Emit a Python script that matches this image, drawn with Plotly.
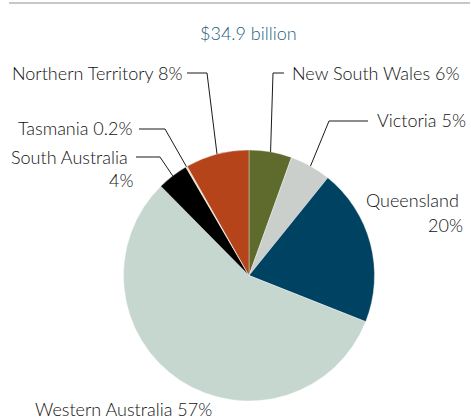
import math
import plotly.graph_objects as go

# ---- data ----
regions = ["New South Wales", "Victoria", "Queensland", "Western Australia",
           "South Australia", "Tasmania", "Northern Territory"]
shares = [5.5, 5.3, 20.2, 56.6, 4.0, 0.2, 8.2]
pct_labels = ["6%", "5%", "20%", "57%", "4%", "0.2%", "8%"]
colors = ["#5e6b2c", "#cbcfcb", "#004262", "#c6d7d0", "#000000", "#e8dcb8", "#b5441a"]
title_text = "$34.9 billion"

W, H = 471, 420
CX, CY, R = 249.0, 275.5, 125.5


def px(x):
    return x / W


def py(y):
    return 1 - y / H


fig = go.Figure()
fig.add_trace(go.Pie(
    labels=regions, values=shares, sort=False, direction="clockwise", rotation=0,
    marker=dict(colors=colors, line=dict(color="rgba(255,255,255,0.6)", width=0.6)),
    textinfo="none", hoverinfo="label+percent", showlegend=False,
    domain=dict(x=[px(CX - R), px(CX + R)], y=[py(CY + R), py(CY - R)]),
))

# mid-angle of each slice (degrees clockwise from 12 o'clock), from the data
total = sum(shares)
mids = []
cum = 0.0
for v in shares:
    mids.append((cum + v / 2) / total * 360)
    cum += v


def edge_point(i):
    a = math.radians(mids[i])
    return CX + R * math.sin(a), CY - R * math.cos(a)


# label placement (layout)
one_line = {
    6: (184, 73, "right", (187, 73), (207, 73)),
    0: (291, 73, "left", (284, 73), (273, 73)),
    1: (376, 120, "left", (368, 121), (329, 121)),
    5: (133, 128, "right", (139, 129), (165, 129)),
    3: (34, 409, "left", None, None),
}
two_line = {
    4: ((129, 157), (134, 180), (136, 157), (160, 157)),
    2: ((460, 200), (464, 225), None, None),
}

txt_font = dict(family="Lato, 'Open Sans', sans-serif", size=18, color="#111111",
                weight=300)
annotations = []
shapes = []


def add_text(x, y, text, anc):
    annotations.append(dict(
        x=px(x), y=py(y), xref="paper", yref="paper", text=text,
        showarrow=False, xanchor=anc, yanchor="middle", align=anc, font=txt_font,
        borderpad=0,
    ))


def add_leader(i, start, elbow):
    ex, ey = edge_point(i)
    path = "M {} {} L {} {} L {} {}".format(px(start[0]), py(start[1]),
                                          px(elbow[0]), py(elbow[1]),
                                          px(ex), py(ey))
    shapes.append(dict(type="path", path=path, xref="paper", yref="paper",
                       line=dict(color="#1a1a1a", width=1)))


for i, (x, y, anc, start, elbow) in one_line.items():
    add_text(x, y, regions[i] + " " + pct_labels[i], anc)
    if start is not None:
        add_leader(i, start, elbow)

for i, (p1, p2, start, elbow) in two_line.items():
    add_text(p1[0], p1[1], regions[i], "right")
    add_text(p2[0], p2[1], pct_labels[i], "right")
    if start is not None:
        add_leader(i, start, elbow)

annotations.append(dict(
    x=px(248), y=py(33), xref="paper", yref="paper", text=title_text,
    showarrow=False, xanchor="center", yanchor="middle", borderpad=0,
    font=dict(family="Lato, 'Open Sans', sans-serif", size=18, color="#245f80",
              weight=300),
))

shapes.append(dict(type="line", x0=px(9), x1=px(470), y0=py(3), y1=py(3),
                   xref="paper", yref="paper", line=dict(color="#c8c8c8", width=2)))

fig.update_layout(
    width=W, height=H, margin=dict(l=0, r=0, t=0, b=0),
    paper_bgcolor="white", plot_bgcolor="white",
    annotations=annotations, shapes=shapes,
)

fig.write_html("out.html", config={"displayModeBar": False},
               post_script="document.body.style.margin='0px';document.body.style.overflow='hidden';")
